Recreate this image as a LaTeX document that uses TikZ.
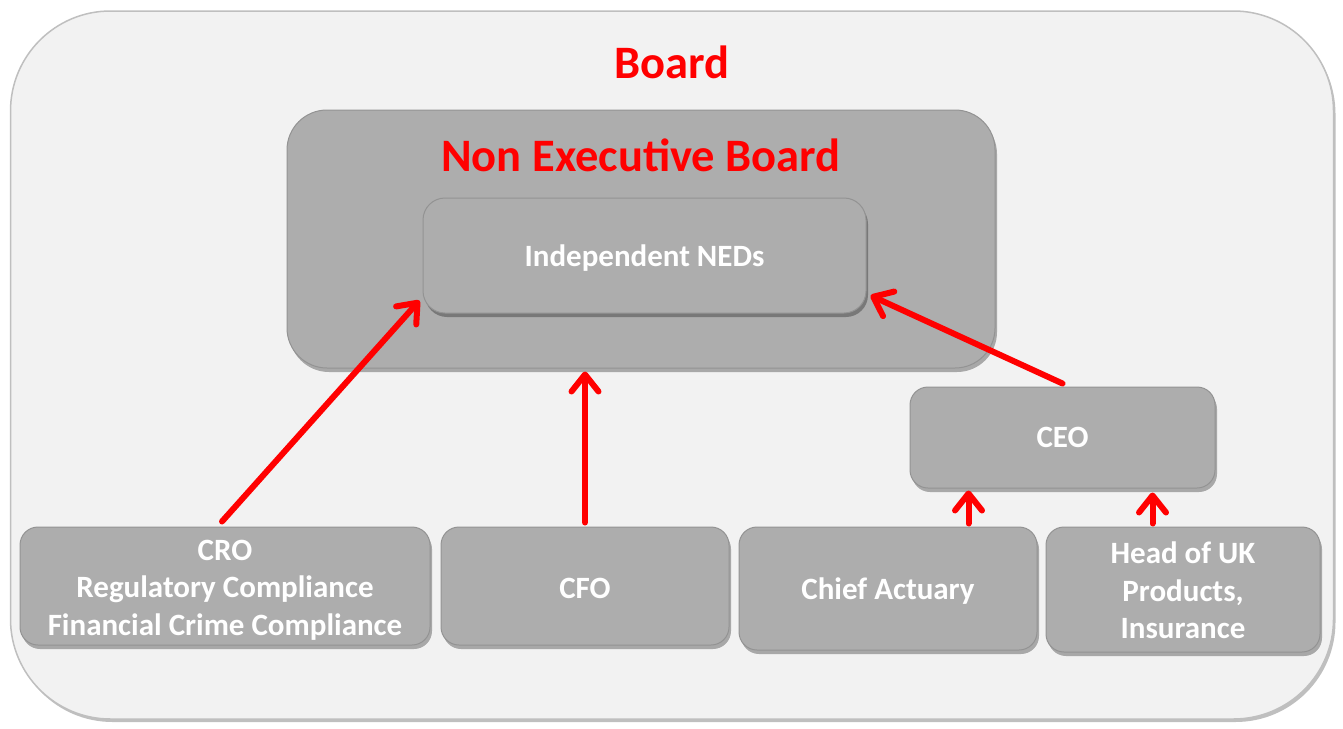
\documentclass[tikz,border=0pt]{standalone}
\usepackage{fontspec}
\setmainfont{Carlito}
\usetikzlibrary{arrows.meta,shadows,calc}
\definecolor{boardfill}{HTML}{F2F2F2}
\definecolor{boardline}{HTML}{BFBFBF}
\definecolor{boxfill}{HTML}{ADADAD}
\definecolor{boxline}{HTML}{939393}
\definecolor{arrred}{HTML}{FF0000}
\begin{document}
\begin{tikzpicture}[x=1pt,y=-1pt,
  boardbox/.style={rectangle, rounded corners=100pt, fill=boardfill, draw=boardline, line width=1.5pt,
    drop shadow={shadow xshift=2pt,shadow yshift=-3pt,opacity=0.25,fill=black}},
  graybox/.style={rectangle, fill=boxfill, draw=boxline, line width=1pt, inner sep=0pt,
    drop shadow={shadow xshift=2pt,shadow yshift=-4pt,opacity=0.3,fill=black}},
  box/.style={graybox, rounded corners=18pt},
  boxtext/.style={align=center, text=white, inner sep=0pt,
    font=\fontsize{31}{37.5}\selectfont\bfseries},
  title/.style={text=arrred, font=\fontsize{46.5}{54}\selectfont\bfseries, inner sep=0pt},
  arr/.style={draw=arrred, line width=6pt, line cap=round,
    -{Straight Barb[round,length=17pt,width=27pt]}}
]
\useasboundingbox (0,0) rectangle (1343,728);
\node[boardbox, minimum width=1323pt, minimum height=708pt] (board) at (672,365) {};
\node[title] (boardtitle) at (672,62) {Board};
\node[graybox, rounded corners=40pt, minimum width=708pt, minimum height=258pt] (neb) at (641,239) {};
\node[title] (nebtitle) at (641,155) {Non Executive Board};
\node[box, minimum width=443pt, minimum height=115pt, rounded corners=22pt,
  label={[boxtext,yshift=-3pt]center:Independent NEDs}] (neds) at (644.5,255.5) {};
\node[box, minimum width=305pt, minimum height=101pt,
  label={[boxtext]center:CEO}] (ceo) at (1062.5,437.5) {};
\node[box, minimum width=410pt, minimum height=118pt,
  label={[boxtext,yshift=-4pt]center:CRO\\Regulatory Compliance\\Financial Crime Compliance}] (cro) at (225,586) {};
\node[box, minimum width=288pt, minimum height=118pt,
  label={[boxtext,yshift=-2pt]center:CFO}] (cfo) at (585,586) {};
\node[box, minimum width=298pt, minimum height=123pt,
  label={[boxtext,yshift=-3pt]center:Chief Actuary}] (actuary) at (888,588.5) {};
\node[box, minimum width=274pt, minimum height=125pt,
  label={[boxtext,yshift=-1pt]center:Head of UK\\Products,\\Insurance}] (head) at (1183,589.5) {};
\coordinate (ceoL) at ([xshift=-94pt]ceo.south);
\coordinate (ceoR) at ([xshift=90pt]ceo.south);
\draw[arr] ([xshift=-3pt,yshift=5pt]cro.north) -- ([xshift=-3pt,yshift=13pt]neds.south west);
\draw[arr] ([yshift=4pt]cfo.north) -- ([yshift=-3pt]cfo.north |- neb.south);
\draw[arr] ([yshift=3pt]ceo.north) -- ([xshift=4pt,yshift=-40pt]neds.east);
\draw[arr] ([yshift=3pt]ceoL |- actuary.north) -- ([yshift=-2pt]ceoL);
\draw[arr] ([yshift=3pt]ceoR |- head.north) -- ([yshift=-4pt]ceoR);
\end{tikzpicture}
\end{document}
